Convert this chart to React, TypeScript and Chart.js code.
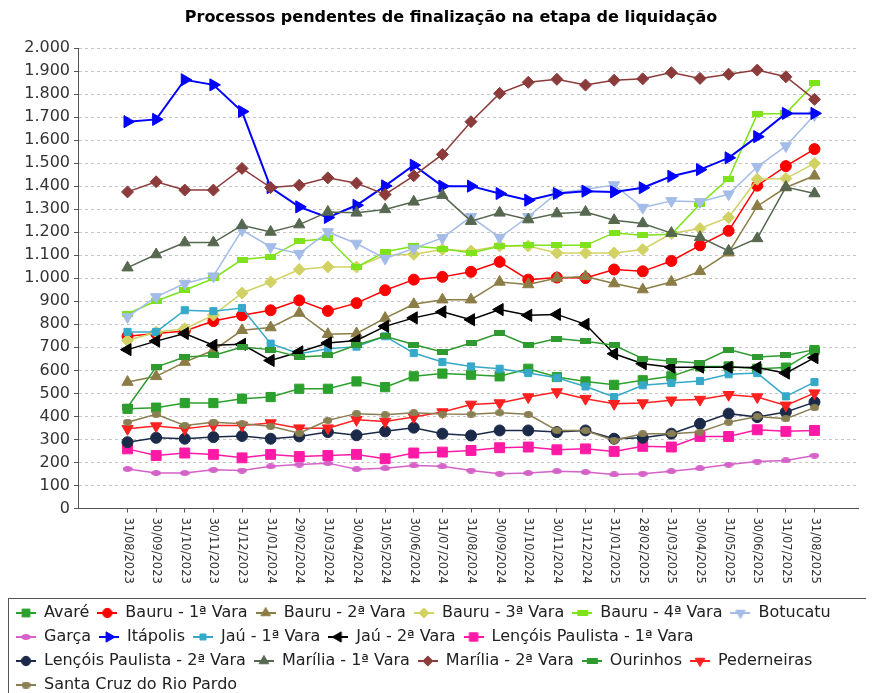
import { useEffect, useRef } from "react";
import { Chart, registerables } from "chart.js";
import { drawPoint } from "chart.js/helpers";

Chart.register(...registerables);

const title = "Processos pendentes de finalização na etapa de liquidação";

const dates = [
  "31/08/2023", "30/09/2023", "31/10/2023", "30/11/2023", "31/12/2023",
  "31/01/2024", "29/02/2024", "31/03/2024", "30/04/2024", "31/05/2024",
  "30/06/2024", "31/07/2024", "31/08/2024", "30/09/2024", "31/10/2024",
  "30/11/2024", "31/12/2024", "31/01/2025", "28/02/2025", "31/03/2025",
  "30/04/2025", "31/05/2025", "30/06/2025", "31/07/2025", "31/08/2025",
];

const yTicks = [0, 100, 200, 300, 400, 500, 600, 700, 800, 900, 1000, 1100, 1200, 1300, 1400, 1500, 1600, 1700, 1800, 1900, 2000];

const avare = [433, 438, 458, 458, 477, 484, 520, 520, 552, 527, 574, 586, 581, 574, 607, 571, 552, 537, 557, 574, 617, 617, 607, 612, 688];
const bauru1 = [748, 760, 771, 814, 839, 861, 904, 858, 892, 948, 994, 1006, 1028, 1071, 994, 1003, 1001, 1038, 1030, 1075, 1143, 1206, 1402, 1487, 1561];
const bauru2 = [549, 574, 636, 687, 774, 786, 849, 757, 760, 827, 887, 907, 907, 984, 973, 1001, 1008, 977, 951, 984, 1030, 1111, 1313, 1394, 1445];
const bauru3 = [730, 765, 781, 840, 936, 984, 1038, 1049, 1049, 1100, 1104, 1125, 1118, 1140, 1140, 1110, 1110, 1110, 1125, 1194, 1216, 1264, 1430, 1433, 1499];
const bauru4 = [846, 901, 948, 999, 1081, 1093, 1161, 1173, 1048, 1115, 1139, 1129, 1110, 1139, 1143, 1143, 1143, 1197, 1187, 1191, 1322, 1433, 1713, 1716, 1846];
const botucatu = [832, 919, 977, 1009, 1209, 1136, 1107, 1201, 1151, 1086, 1129, 1175, 1267, 1177, 1267, 1370, 1386, 1405, 1307, 1336, 1332, 1365, 1484, 1574, 1709];
const garca = [172, 154, 154, 168, 165, 183, 191, 197, 171, 175, 187, 183, 165, 151, 154, 162, 158, 148, 151, 162, 175, 191, 204, 209, 230];
const itapolis = [1680, 1690, 1862, 1840, 1724, 1394, 1310, 1264, 1317, 1401, 1491, 1400, 1400, 1368, 1339, 1368, 1378, 1375, 1393, 1443, 1472, 1523, 1615, 1716, 1716];
const jau1 = [767, 767, 861, 857, 871, 716, 672, 694, 703, 748, 675, 636, 617, 607, 588, 568, 530, 484, 535, 545, 554, 583, 588, 487, 549];
const jau2 = [690, 727, 760, 709, 713, 643, 680, 719, 730, 791, 828, 854, 820, 864, 839, 843, 800, 672, 629, 614, 614, 614, 612, 588, 655];
const lencois1 = [259, 230, 241, 235, 220, 235, 226, 230, 235, 216, 241, 245, 252, 264, 267, 255, 259, 248, 270, 267, 313, 313, 342, 335, 339];
const lencois2 = [288, 307, 303, 310, 315, 303, 313, 332, 318, 335, 351, 325, 317, 339, 339, 332, 339, 303, 307, 325, 368, 412, 397, 419, 462];
const marilia1 = [1046, 1103, 1155, 1155, 1230, 1201, 1233, 1288, 1284, 1299, 1332, 1361, 1248, 1284, 1255, 1281, 1288, 1252, 1238, 1196, 1178, 1119, 1173, 1396, 1368];
const marilia2 = [1375, 1419, 1383, 1383, 1477, 1394, 1404, 1436, 1413, 1364, 1445, 1538, 1680, 1803, 1851, 1864, 1839, 1860, 1866, 1893, 1868, 1886, 1904, 1875, 1777];
const ourinhos = [440, 614, 658, 665, 701, 690, 658, 665, 710, 748, 712, 680, 719, 762, 709, 738, 726, 709, 651, 640, 632, 690, 658, 665, 690];
const pederneiras = [346, 358, 346, 361, 361, 371, 349, 349, 385, 378, 397, 419, 452, 458, 484, 506, 477, 455, 458, 470, 473, 494, 484, 448, 501];
const santaCruz = [375, 409, 361, 375, 368, 357, 327, 383, 412, 407, 416, 410, 409, 416, 409, 339, 339, 296, 325, 325, 332, 375, 400, 390, 438];

const seriesNames = [
  "Avaré", "Bauru - 1ª Vara", "Bauru - 2ª Vara", "Bauru - 3ª Vara", "Bauru - 4ª Vara", "Botucatu",
  "Garça", "Itápolis", "Jaú - 1ª Vara", "Jaú - 2ª Vara", "Lençóis Paulista - 1ª Vara",
  "Lençóis Paulista - 2ª Vara", "Marília - 1ª Vara", "Marília - 2ª Vara", "Ourinhos", "Pederneiras",
  "Santa Cruz do Rio Pardo",
];
const seriesValues = [
  avare, bauru1, bauru2, bauru3, bauru4, botucatu, garca, itapolis, jau1, jau2,
  lencois1, lencois2, marilia1, marilia2, ourinhos, pederneiras, santaCruz,
];
const seriesColors = [
  "#2ca02c", "#ff0000", "#8b7d45", "#d2d264", "#7fe31c", "#a4bce8",
  "#d462c8", "#0000ff", "#36a9c9", "#000000", "#ff1aa6",
  "#1c2a4a", "#56684f", "#8c3b3b", "#2f9a2f", "#ff2020",
  "#8a7f52",
];

type Marker = { shape: string; r?: number; rot?: number; w?: number; h?: number };
const seriesMarkers: Marker[] = [
  { shape: "rect", r: 6.5 },
  { shape: "circle", r: 5.5 },
  { shape: "triangle", r: 6.5 },
  { shape: "rectRot", r: 6 },
  { shape: "flat", w: 11, h: 6 },
  { shape: "triangle", r: 6.5, rot: 180 },
  { shape: "ellipse", w: 10, h: 6 },
  { shape: "triangle", r: 7, rot: 90 },
  { shape: "rect", r: 5 },
  { shape: "triangle", r: 7, rot: -90 },
  { shape: "rect", r: 7 },
  { shape: "circle", r: 5.5 },
  { shape: "triangle", r: 6.5 },
  { shape: "rectRot", r: 6 },
  { shape: "flat", w: 11, h: 6 },
  { shape: "triangle", r: 6.5, rot: 180 },
  { shape: "ellipse", w: 9, h: 7 },
];

const fmt = (v: number) =>
  v >= 1000 ? `${Math.floor(v / 1000)}.${String(v % 1000).padStart(3, "0")}` : String(v);

function shapeImage(m: Marker, color: string) {
  const c = document.createElement("canvas");
  c.width = m.w || 10;
  c.height = m.h || 6;
  const ctx = c.getContext("2d")!;
  ctx.fillStyle = color;
  if (m.shape === "flat") {
    ctx.fillRect(0, 0, c.width, c.height);
  } else {
    ctx.beginPath();
    ctx.ellipse(c.width / 2, c.height / 2, c.width / 2, c.height / 2, 0, 0, Math.PI * 2);
    ctx.fill();
  }
  return c;
}

// legend symbol: a short line with the series marker on it
function legendIcon(m: Marker, color: string, img: HTMLCanvasElement | null) {
  const c = document.createElement("canvas");
  c.width = 20;
  c.height = 14;
  const ctx = c.getContext("2d")!;
  ctx.strokeStyle = color;
  ctx.lineWidth = 2;
  ctx.beginPath();
  ctx.moveTo(0, 7);
  ctx.lineTo(20, 7);
  ctx.stroke();
  if (img) {
    ctx.drawImage(img, 10 - img.width / 2, 7 - img.height / 2);
  } else {
    ctx.fillStyle = color;
    ctx.lineWidth = 1;
    drawPoint(ctx, { pointStyle: m.shape, radius: (m.r || 5) * 0.85, rotation: m.rot || 0, borderWidth: 1 } as any, 10, 7);
  }
  return c;
}

const decor = {
  id: "decor",
  afterDraw(chart: any) {
    const { ctx, chartArea, scales, legend } = chart;
    ctx.save();
    ctx.font = "bold 16px 'DejaVu Sans'";
    ctx.fillStyle = "#000";
    ctx.textAlign = "center";
    ctx.textBaseline = "middle";
    ctx.fillText(title, 443, 10);

    ctx.font = "11.5px 'DejaVu Sans'";
    ctx.fillStyle = "#333";
    ctx.textAlign = "left";
    dates.forEach((d, i) => {
      const x = scales.x.getPixelForValue(i);
      ctx.save();
      ctx.translate(x, chartArea.bottom + 9);
      ctx.rotate(Math.PI / 2);
      ctx.fillText(d, 0, 0);
      ctx.restore();
    });

    if (legend) {
      ctx.strokeStyle = "#555";
      ctx.lineWidth = 1;
      ctx.strokeRect(0.5, Math.round(legend.top) + 1.5, chart.width + 10, legend.height + 20);
    }
    ctx.restore();
  },
};

export default function App() {
  const canvasRef = useRef<HTMLCanvasElement>(null);

  useEffect(() => {
    document.documentElement.style.overflow = "hidden";
    if (!canvasRef.current) return;

    const images = seriesMarkers.map((m, i) =>
      m.shape === "flat" || m.shape === "ellipse" ? shapeImage(m, seriesColors[i]) : null
    );
    const icons = seriesMarkers.map((m, i) => legendIcon(m, seriesColors[i], images[i]));

    const datasets = seriesNames.map((name, i) => {
      const m = seriesMarkers[i];
      return {
        label: name,
        data: seriesValues[i].map((v, j) => ({ x: j, y: v })),
        borderColor: seriesColors[i],
        backgroundColor: seriesColors[i],
        borderWidth: name === "Itápolis" ? 2 : 1.5,
        pointStyle: (images[i] || m.shape) as any,
        pointRadius: m.r || 5,
        pointRotation: m.rot || 0,
        pointBorderWidth: 1,
        pointBorderColor: seriesColors[i],
        pointBackgroundColor: seriesColors[i],
        order: seriesNames.length - i,
      };
    });

    const chart = new Chart(canvasRef.current, {
      type: "line",
      data: { datasets },
      options: {
        animation: false,
        responsive: true,
        maintainAspectRatio: false,
        layout: { padding: { top: 40, left: 0, right: 0, bottom: 0 } },
        scales: {
          x: {
            type: "linear",
            min: -1.73,
            max: 25.52,
            afterBuildTicks: (scale: any) => {
              scale.ticks = dates.map((_, i) => ({ value: i }));
            },
            afterFit: (scale: any) => {
              scale.height = 88.5;
            },
            ticks: { display: false },
            grid: { drawOnChartArea: false, drawTicks: true, tickLength: 4, color: "#555" },
            border: { display: true, color: "#555", width: 1 },
          },
          y: {
            min: 0,
            max: 2000,
            afterBuildTicks: (scale: any) => {
              scale.ticks = yTicks.map((v) => ({ value: v }));
            },
            afterFit: (scale: any) => {
              scale.width = 70;
            },
            ticks: {
              padding: 4,
              color: "#333",
              font: { family: "'DejaVu Sans'", size: 16 },
              callback: (v: any) => fmt(Number(v)),
            },
            grid: { color: "#c4c4c4", tickColor: "#555", tickLength: 4, lineWidth: 1 },
            border: { display: true, color: "#555", width: 1, dash: [3, 3] },
          },
        },
        plugins: {
          title: { display: false },
          tooltip: { enabled: false },
          legend: {
            position: "bottom",
            align: "start",
            labels: {
              usePointStyle: true,
              pointStyleWidth: 20,
              padding: 8,
              color: "#222",
              font: { family: "'DejaVu Sans'", size: 16 },
              generateLabels: (c: any) =>
                c.data.datasets.map((ds: any, i: number) => ({
                  text: ds.label,
                  datasetIndex: i,
                  pointStyle: icons[i],
                  rotation: 0,
                  fillStyle: seriesColors[i],
                  strokeStyle: seriesColors[i],
                  lineWidth: 0,
                  hidden: false,
                  fontColor: "#222",
                })),
            },
          },
        },
      } as any,
      plugins: [decor],
    });

    return () => {
      chart.destroy();
    };
  }, []);

  return (
    <div style={{ position: "relative", width: "100%", height: 695 }}>
      <canvas ref={canvasRef} />
    </div>
  );
}
